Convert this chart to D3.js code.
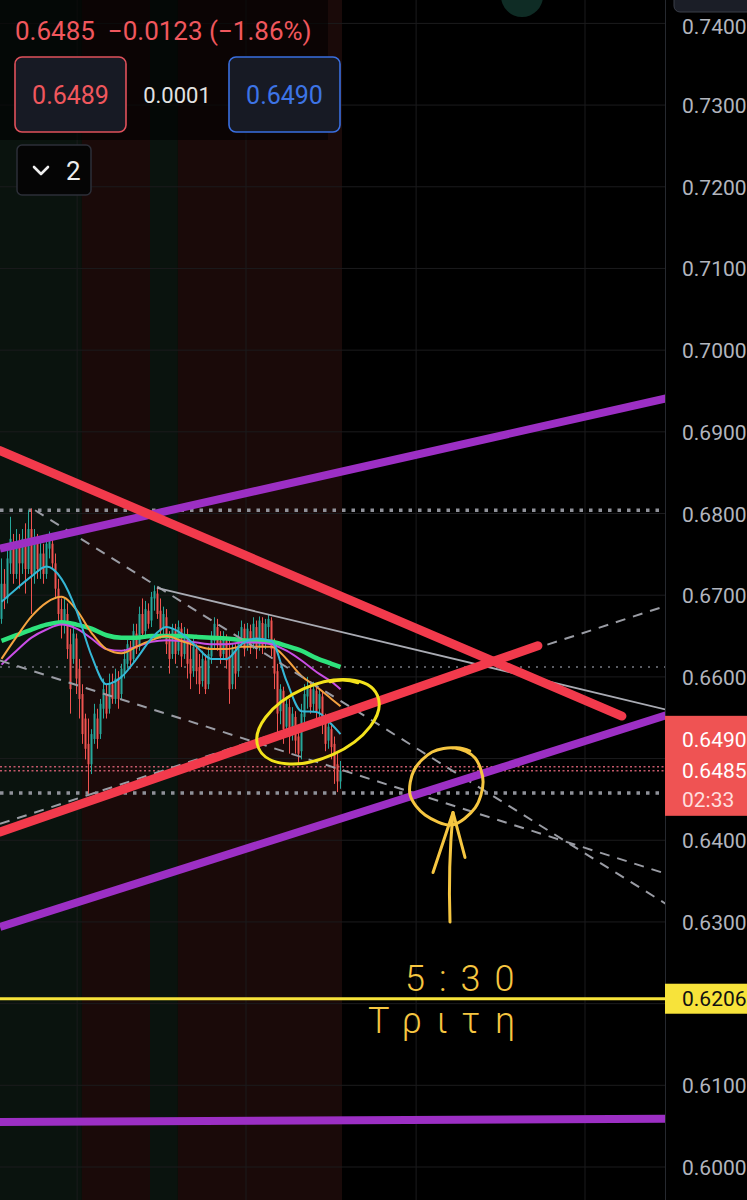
<!DOCTYPE html>
<html><head><meta charset="utf-8">
<script src="https://cdn.jsdelivr.net/npm/d3@7"></script>
<style>
html,body{margin:0;padding:0;background:#000;overflow:hidden;}
svg{display:block;}
text{font-family:Roboto,'Noto Sans',sans-serif;}
</style></head><body>
<svg id="chart" width="747" height="1200"></svg>
<script>
// ---- price data: [open, high, low, close] per bar ----
const candles = [
[0.6671,0.6745,0.6665,0.6714],[0.6714,0.6732,0.6683,0.6696],[0.6696,0.6757,0.6690,0.6745],[0.6739,0.6796,0.6726,0.6769],
[0.6763,0.6775,0.6714,0.6726],[0.6726,0.6781,0.6720,0.6763],[0.6763,0.6775,0.6708,0.6739],[0.6739,0.6781,0.6726,0.6769],
[0.6769,0.6788,0.6702,0.6732],[0.6732,0.6804,0.6726,0.6781],[0.6781,0.6806,0.6677,0.6726],[0.6726,0.6781,0.6714,0.6763],
[0.6763,0.6775,0.6720,0.6732],[0.6732,0.6769,0.6720,0.6751],[0.6751,0.6763,0.6714,0.6726],[0.6726,0.6775,0.6720,0.6763],
[0.6757,0.6778,0.6745,0.6769],[0.6763,0.6772,0.6732,0.6739],[0.6739,0.6751,0.6696,0.6708],[0.6708,0.6720,0.6665,0.6677],
[0.6683,0.6696,0.6647,0.6665],[0.6665,0.6696,0.6653,0.6683],[0.6677,0.6690,0.6622,0.6634],[0.6640,0.6659,0.6555,0.6585],
[0.6622,0.6665,0.6616,0.6653],[0.6647,0.6653,0.6579,0.6598],[0.6610,0.6622,0.6549,0.6573],[0.6579,0.6591,0.6518,0.6530],
[0.6549,0.6555,0.6499,0.6512],[0.6518,0.6549,0.6457,0.6493],[0.6493,0.6536,0.6481,0.6530],[0.6524,0.6567,0.6518,0.6555],
[0.6549,0.6561,0.6512,0.6524],[0.6530,0.6573,0.6524,0.6567],[0.6561,0.6598,0.6549,0.6585],[0.6579,0.6591,0.6549,0.6555],
[0.6561,0.6604,0.6555,0.6591],[0.6591,0.6604,0.6567,0.6573],[0.6573,0.6610,0.6567,0.6598],[0.6598,0.6607,0.6561,0.6573],
[0.6579,0.6616,0.6573,0.6610],[0.6604,0.6634,0.6598,0.6622],[0.6616,0.6647,0.6610,0.6640],[0.6637,0.6644,0.6610,0.6620],
[0.6622,0.6665,0.6616,0.6656],[0.6653,0.6665,0.6628,0.6634],[0.6637,0.6686,0.6632,0.6677],[0.6677,0.6696,0.6647,0.6653],
[0.6656,0.6693,0.6647,0.6683],[0.6681,0.6690,0.6659,0.6665],[0.6669,0.6704,0.6661,0.6698],[0.6696,0.6712,0.6681,0.6705],
[0.6702,0.6710,0.6671,0.6677],[0.6681,0.6696,0.6647,0.6656],[0.6659,0.6686,0.6649,0.6677],[0.6673,0.6683,0.6628,0.6640],
[0.6647,0.6656,0.6604,0.6622],[0.6628,0.6665,0.6622,0.6659],[0.6656,0.6665,0.6616,0.6628],[0.6632,0.6669,0.6627,0.6661],
[0.6659,0.6666,0.6612,0.6625],[0.6628,0.6661,0.6622,0.6653],[0.6649,0.6659,0.6598,0.6616],[0.6622,0.6640,0.6585,0.6604],
[0.6607,0.6647,0.6600,0.6637],[0.6634,0.6640,0.6591,0.6607],[0.6612,0.6628,0.6579,0.6591],[0.6595,0.6632,0.6588,0.6622],
[0.6620,0.6628,0.6579,0.6585],[0.6591,0.6637,0.6585,0.6628],[0.6625,0.6656,0.6616,0.6647],[0.6644,0.6673,0.6634,0.6665],
[0.6661,0.6671,0.6632,0.6640],[0.6644,0.6656,0.6616,0.6625],[0.6628,0.6656,0.6622,0.6647],[0.6644,0.6652,0.6610,0.6620],
[0.6625,0.6647,0.6567,0.6585],[0.6591,0.6640,0.6585,0.6634],[0.6632,0.6640,0.6585,0.6604],[0.6607,0.6656,0.6600,0.6647],
[0.6644,0.6669,0.6637,0.6661],[0.6659,0.6665,0.6625,0.6634],[0.6637,0.6666,0.6632,0.6659],[0.6656,0.6664,0.6628,0.6637],
[0.6640,0.6673,0.6634,0.6665],[0.6661,0.6669,0.6622,0.6634],[0.6637,0.6674,0.6632,0.6669],[0.6666,0.6673,0.6628,0.6637],
[0.6640,0.6671,0.6634,0.6665],[0.6661,0.6677,0.6647,0.6671],[0.6669,0.6673,0.6625,0.6634],[0.6637,0.6647,0.6585,0.6604],
[0.6607,0.6616,0.6524,0.6555],[0.6558,0.6591,0.6542,0.6585],[0.6583,0.6588,0.6518,0.6536],[0.6539,0.6576,0.6530,0.6567],
[0.6563,0.6573,0.6506,0.6527],[0.6530,0.6563,0.6522,0.6555],[0.6551,0.6558,0.6506,0.6522],[0.6527,0.6539,0.6493,0.6506],
[0.6509,0.6567,0.6499,0.6555],[0.6551,0.6591,0.6542,0.6579],[0.6576,0.6600,0.6561,0.6588],[0.6585,0.6595,0.6555,0.6563],
[0.6567,0.6594,0.6558,0.6585],[0.6583,0.6590,0.6549,0.6558],[0.6561,0.6585,0.6551,0.6579],[0.6576,0.6583,0.6530,0.6542],
[0.6546,0.6555,0.6509,0.6518],[0.6522,0.6549,0.6512,0.6539],[0.6536,0.6542,0.6499,0.6514],[0.6518,0.6527,0.6469,0.6487],
[0.6493,0.6506,0.6459,0.6472],[0.6472,0.6497,0.6463,0.6485]
];

// ---- moving averages, sampled at bar indices ----
const maIdx     = [0,5,10,15,20,25,30,35,40,45,50,55,60,65,70,75,80,85,90,95,100,105,110,113];
const maCyan    = [0.6692,0.6708,0.6723,0.6735,0.6720,0.6681,0.6626,0.6591,0.6600,0.6622,0.6647,0.6661,0.6653,0.6637,0.6622,0.6622,0.6640,0.6647,0.6644,0.6595,0.6558,0.6557,0.6542,0.6530];
const maOrange  = [0.6622,0.6649,0.6674,0.6691,0.6698,0.6682,0.6654,0.6634,0.6629,0.6637,0.6645,0.6650,0.6644,0.6638,0.6634,0.6634,0.6637,0.6637,0.6637,0.6622,0.6601,0.6588,0.6573,0.6564];
const maMagenta = [0.6615,0.6632,0.6648,0.6658,0.6664,0.6659,0.6647,0.6634,0.6632,0.6637,0.6643,0.6645,0.6644,0.6642,0.6640,0.6640,0.6642,0.6642,0.6640,0.6632,0.6620,0.6606,0.6594,0.6585];
const maGreen   = [0.6644,0.6651,0.6658,0.6664,0.6667,0.6664,0.6659,0.6651,0.6648,0.6648,0.6650,0.6650,0.6650,0.6649,0.6648,0.6647,0.6645,0.6644,0.6643,0.6638,0.6632,0.6623,0.6616,0.6612];

// ---- drawings: [bar index, price] endpoints ----
const purpleLines = [[[-0.5,0.6757],[221.5,0.6941]], [[-0.5,0.6294],[221.5,0.6553]], [[-0.5,0.6055],[221.5,0.6059]]];
const redLines    = [[[-0.5,0.6877],[206.8,0.6552]], [[-0.5,0.6410],[178.8,0.6638]]];
const greyLine    = [[51.8,0.6709],[221.5,0.6560]];
const dashedLines = [[[11.2,0.6804],[221.5,0.6322]], [[-0.5,0.6620],[221.5,0.6359]], [[-0.5,0.6420],[221.5,0.6687]]];

// ---- horizontal levels ----
const levelPrices = [0.6804, 0.6612, 0.6490, 0.6485, 0.6458];
const levelKinds  = ['extreme','prev','quote','quote','extreme'];
const alertLevel  = 0.6206;

// ---- sessions (bar index ranges) and time grid ----
const sessionFrom = [-0.5, 26.8, 49.5, 58.8];
const sessionTo   = [26.8, 49.5, 58.8, 113.5];
const sessionKind = ['up','down','up','down'];
const timeGrid    = [25.2, 81.5, 138.2, 194.5];

// ---- axis ticks and quote header ----
const priceTicks = d3.range(60, 75).map(v => v / 100);
const lastPrice = 0.6485, change = -0.0123, changePct = -1.86;
const bid = 0.6489, ask = 0.6490, spread = 0.0001;
const countdown = '02:33';

const W = 747, H = 1200, plotW = 665;
const svg = d3.select('#chart');
const x = d3.scaleLinear().domain([-0.5, 221.5]).range([0, 666]);
const y = d3.scaleLinear().domain([0.60, 0.74]).range([1167, 23.4]);

svg.append('rect').attr('width', W).attr('height', H).attr('fill', '#000');
svg.append('defs').append('clipPath').attr('id', 'plot')
  .append('rect').attr('width', plotW).attr('height', H);
const plot = svg.append('g').attr('clip-path', 'url(#plot)');

// session shading
plot.selectAll('rect.session').data(sessionFrom).join('rect')
  .attr('x', (d, i) => x(d)).attr('y', 0)
  .attr('width', (d, i) => x(sessionTo[i]) - x(d)).attr('height', H)
  .attr('fill', (d, i) => sessionKind[i] === 'up' ? '#0a130e' : '#1a0a09');

// grid
plot.selectAll('line.hg').data(priceTicks).join('line')
  .attr('x1', 0).attr('x2', plotW).attr('y1', d => y(d)).attr('y2', d => y(d))
  .attr('stroke', '#1b1b1d').attr('stroke-width', 1);
plot.selectAll('line.vg').data(timeGrid).join('line')
  .attr('x1', d => x(d)).attr('x2', d => x(d)).attr('y1', 0).attr('y2', H)
  .attr('stroke', '#1b1b1d').attr('stroke-width', 1);

// dotted horizontal levels
const levelStyle = {
  extreme: {stroke: '#8f9199', w: 3.5, dash: '3.5,6'},
  prev:    {stroke: '#5a5c63', w: 2, dash: '2,6'},
  quote:   {stroke: '#c4596a', w: 1.6, dash: '2,2.5'}
};
plot.selectAll('line.lvl').data(levelPrices).join('line')
  .attr('x1', 0).attr('x2', plotW).attr('y1', d => y(d)).attr('y2', d => y(d))
  .attr('stroke', (d, i) => levelStyle[levelKinds[i]].stroke)
  .attr('stroke-width', (d, i) => levelStyle[levelKinds[i]].w)
  .attr('stroke-dasharray', (d, i) => levelStyle[levelKinds[i]].dash);

// candles
const up = '#26a69a', down = '#ef5350';
const cg = plot.append('g');
cg.selectAll('line.wick').data(candles).join('line')
  .attr('x1', (d, i) => x(i)).attr('x2', (d, i) => x(i))
  .attr('y1', d => y(d[1])).attr('y2', d => y(d[2]))
  .attr('stroke', d => d[3] >= d[0] ? up : down).attr('stroke-width', 1);
cg.selectAll('rect.body').data(candles).join('rect')
  .attr('x', (d, i) => x(i) - 1).attr('width', 2)
  .attr('y', d => y(Math.max(d[0], d[3])))
  .attr('height', d => Math.max(1, Math.abs(y(d[0]) - y(d[3]))))
  .attr('fill', d => d[3] >= d[0] ? up : down);

// moving averages
const maLine = d3.line().x(d => x(d[0])).y(d => y(d[1])).curve(d3.curveMonotoneX);
[[maGreen, '#2ee27c', 4.5], [maMagenta, '#c94ee6', 2], [maOrange, '#f5a340', 2], [maCyan, '#35b7d6', 2]]
  .forEach(([vals, col, w]) => {
    plot.append('path').datum(maIdx.map((k, i) => [k, vals[i]]))
      .attr('d', maLine).attr('fill', 'none').attr('stroke', col).attr('stroke-width', w)
      .attr('stroke-linejoin', 'round');
  });

// trend drawings
const seg = d3.line().x(d => x(d[0])).y(d => y(d[1]));
plot.selectAll('path.dash').data(dashedLines).join('path')
  .attr('d', seg).attr('fill', 'none').attr('stroke', '#9a9ca4')
  .attr('stroke-width', 2).attr('stroke-dasharray', '10,8');
plot.append('path').datum(greyLine).attr('d', seg).attr('fill', 'none')
  .attr('stroke', '#a9abb3').attr('stroke-width', 1.8);
plot.selectAll('path.purple').data(purpleLines).join('path')
  .attr('d', seg).attr('fill', 'none').attr('stroke', '#9c2fc4').attr('stroke-width', 8);
plot.selectAll('path.red').data(redLines).join('path')
  .attr('d', seg).attr('fill', 'none').attr('stroke', '#f23a4c').attr('stroke-width', 9)
  .attr('stroke-linecap', 'round');

// alert level
plot.append('line').attr('x1', 0).attr('x2', plotW)
  .attr('y1', y(alertLevel)).attr('y2', y(alertLevel))
  .attr('stroke', '#f7e33a').attr('stroke-width', 3);

// hand annotations
const ann = plot.append('g').attr('fill', 'none').attr('stroke-linecap', 'round').attr('stroke-linejoin', 'round');
const ex = x(105.5), ey = y(0.6545);
ann.append('ellipse').attr('cx', ex).attr('cy', ey).attr('rx', 65).attr('ry', 36)
  .attr('transform', `rotate(-24 ${ex} ${ey})`)
  .attr('stroke', '#f3e21c').attr('stroke-width', 3);
ann.append('path').attr('d', `M${ex + 12},${ey - 40} q14,-4 28,1`)
  .attr('stroke', '#f3e21c').attr('stroke-width', 3);

const gold = '#f6c641';
const lx = x(148.2), ly = y(0.6464);
const loopPts = [[6,37],[-21,27],[-36,7],[-32,-18],[-14,-36],[9,-40],[29,-30],[37,-6],[29,20]]
  .map(p => [lx + p[0], ly + p[1]]);
ann.append('path').attr('d', d3.line().curve(d3.curveCardinalClosed.tension(0.1))(loopPts))
  .attr('stroke', gold).attr('stroke-width', 3);
ann.append('path').attr('d', `M${lx + 6},${ly - 40} q8,-2 18,3`).attr('stroke', gold).attr('stroke-width', 2.5);
const ax = x(149.5), ay0 = y(0.6300), ay1 = y(0.6434);
ann.append('path').attr('d', `M${ax},${ay0} Q${ax - 2},${(ay0 + ay1) / 2} ${ax + 3},${ay1}`)
  .attr('stroke', gold).attr('stroke-width', 3);
ann.append('path').attr('d', `M${ax - 17},${ay1 + 60} L${ax + 3},${ay1} L${ax + 15},${ay1 + 45}`)
  .attr('stroke', gold).attr('stroke-width', 3);

const hand = plot.append('g').attr('fill', gold)
  .style('font-family', "Roboto,'DejaVu Sans',sans-serif").style('font-weight', 300);
hand.append('text').attr('x', 405).attr('y', y(alertLevel) - 8)
  .attr('font-size', 36).attr('letter-spacing', 14).text('5:30');
hand.append('text').attr('x', 368).attr('y', y(alertLevel) + 34)
  .attr('font-size', 36).attr('letter-spacing', 15).text('Τριτη');

// header backdrop and quote panel
svg.append('rect').attr('x', 0).attr('y', 0).attr('width', 328).attr('height', 140)
  .attr('fill', '#000').attr('opacity', 0.55);
svg.append('circle').attr('cx', 522).attr('cy', -4).attr('r', 21).attr('fill', '#0f2c25');
const fmt4 = d3.format('.4f');
svg.append('text').attr('x', 15).attr('y', 40).attr('font-size', 26).attr('fill', '#f0575d')
  .style('white-space', 'pre')
  .text(`${fmt4(lastPrice)}  ${fmt4(change).replace('-', '−')} (${d3.format('.2f')(changePct).replace('-', '−')}%)`);

const boxes = [{x: 15, stroke: '#e0515b', fill: '#f0575d', val: bid}, {x: 229, stroke: '#3a6fe0', fill: '#3d74e6', val: ask}];
boxes.forEach(b => {
  svg.append('rect').attr('x', b.x).attr('y', 57).attr('width', 111).attr('height', 75).attr('rx', 7)
    .attr('fill', '#171a24').attr('stroke', b.stroke).attr('stroke-width', 1.6);
  svg.append('text').attr('x', b.x + 55.5).attr('y', 95).attr('text-anchor', 'middle')
    .attr('dominant-baseline', 'central').attr('font-size', 25).attr('fill', b.fill).text(fmt4(b.val));
});
svg.append('text').attr('x', 177).attr('y', 95).attr('text-anchor', 'middle').attr('dominant-baseline', 'central')
  .attr('font-size', 22).attr('fill', '#e2e2e2').text(fmt4(spread));

svg.append('rect').attr('x', 17).attr('y', 145).attr('width', 74).attr('height', 50).attr('rx', 5)
  .attr('fill', '#050505').attr('stroke', '#2c2f38').attr('stroke-width', 1.5);
svg.append('path').attr('d', 'M34,167 L41,174 L48,167').attr('fill', 'none')
  .attr('stroke', '#eee').attr('stroke-width', 2.6).attr('stroke-linecap', 'round').attr('stroke-linejoin', 'round');
svg.append('text').attr('x', 66).attr('y', 171).attr('dominant-baseline', 'central')
  .attr('font-size', 26).attr('fill', '#eee').text('2');

// price axis
const axisFont = 21, axisX = 682;
const axisG = svg.append('g');
axisG.append('rect').attr('x', plotW).attr('y', 0).attr('width', W - plotW).attr('height', H).attr('fill', '#000');
axisG.append('line').attr('x1', plotW + 0.5).attr('x2', plotW + 0.5).attr('y1', 0).attr('y2', H)
  .attr('stroke', '#26292f').attr('stroke-width', 1);
const hidden = t => Math.abs(y(t) - y(lastPrice)) < 50 || Math.abs(y(t) - y(alertLevel)) < 16;
axisG.selectAll('text.tick').data(priceTicks.filter(t => !hidden(t))).join('text')
  .attr('x', axisX).attr('y', d => Math.max(y(d), 26) + 1).attr('dominant-baseline', 'central')
  .attr('font-size', axisFont).attr('fill', '#b2b5be').text(d => fmt4(d));
axisG.append('rect').attr('x', 674).attr('y', -10).attr('width', 90).attr('height', 22).attr('rx', 6)
  .attr('fill', '#1b1e27').attr('stroke', '#3a3e49');

// last price label
const ly0 = y(lastPrice);
axisG.append('rect').attr('x', plotW).attr('y', ly0 - 55).attr('width', W - plotW).attr('height', 100)
  .attr('fill', '#ef5353');
[[fmt4(ask), ly0 - 31, '#fff'], [fmt4(lastPrice), ly0, '#fff'], [countdown, ly0 + 29, '#ffdede']].forEach(([t, yy, c]) => {
  axisG.append('text').attr('x', axisX).attr('y', yy).attr('dominant-baseline', 'central')
    .attr('font-size', axisFont).attr('fill', c).text(t);
});

// alert label
axisG.append('rect').attr('x', plotW).attr('y', y(alertLevel) - 15).attr('width', W - plotW).attr('height', 30)
  .attr('fill', '#f7e33a');
axisG.append('text').attr('x', axisX).attr('y', y(alertLevel)).attr('dominant-baseline', 'central')
  .attr('font-size', axisFont).attr('fill', '#111').text(fmt4(alertLevel));
</script>
</body></html>
